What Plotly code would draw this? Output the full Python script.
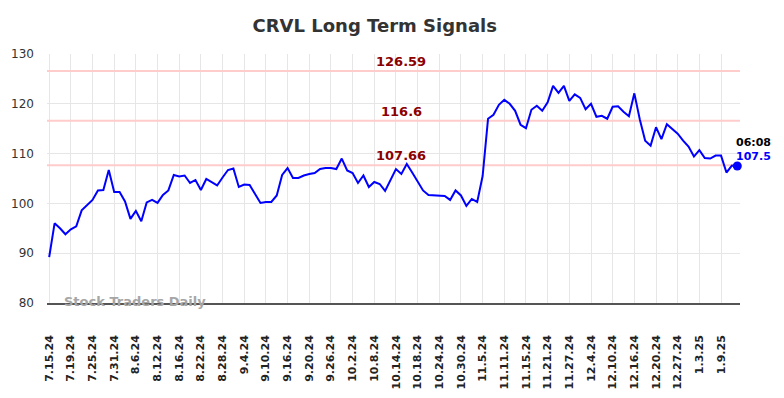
import plotly.graph_objects as go

title_text = "CRVL Long Term Signals"

prices = [
    89.2, 96.0, 95.0, 93.8, 94.8, 95.4, 98.6, 99.7, 100.7, 102.6,
    102.7, 106.7, 102.3, 102.3, 100.4, 96.9, 98.5, 96.4, 100.2, 100.7,
    100.1, 101.7, 102.6, 105.7, 105.4, 105.6, 104.1, 104.7, 102.7, 104.9,
    104.3, 103.6, 105.2, 106.7, 107.0, 103.3, 103.8, 103.7, 101.9, 100.1,
    100.3, 100.3, 101.6, 105.7, 107.1, 105.1, 105.1, 105.6, 105.9, 106.1,
    106.9, 107.1, 107.1, 106.9, 109.0, 106.6, 106.1, 104.1, 105.6, 103.3,
    104.3, 103.9, 102.5, 104.7, 106.9, 105.9, 107.9, 106.2, 104.4, 102.6,
    101.7, 101.6, 101.6, 101.5, 100.7, 102.6, 101.6, 99.5, 100.9, 100.3,
    105.5, 117.0, 117.8, 119.8, 120.8, 120.0, 118.6, 115.8, 115.1, 118.8,
    119.6, 118.6, 120.3, 123.6, 122.2, 123.6, 120.6, 121.9, 121.2, 118.9,
    120.0, 117.4, 117.6, 117.0, 119.4, 119.5, 118.4, 117.5, 122.1, 116.9,
    112.6, 111.6, 115.3, 112.9, 115.9, 115.0, 114.0, 112.6, 111.4, 109.4,
    110.7, 109.1, 109.0, 109.6, 109.6, 106.2, 107.6, 107.5,
]

tick_labels = [
    "7.15.24", "7.19.24", "7.25.24", "7.31.24", "8.6.24", "8.12.24", "8.16.24",
    "8.22.24", "8.28.24", "9.4.24", "9.10.24", "9.16.24", "9.20.24", "9.26.24",
    "10.2.24", "10.8.24", "10.14.24", "10.18.24", "10.24.24", "10.30.24",
    "11.5.24", "11.11.24", "11.15.24", "11.21.24", "11.27.24", "12.4.24",
    "12.10.24", "12.16.24", "12.20.24", "12.27.24", "1.3.25", "1.9.25",
]
tick_step = 4

signal_levels = [126.59, 116.6, 107.66]
last_time = "06:08"
last_price = 107.5
watermark = "Stock Traders Daily"

x_idx = list(range(len(prices)))
tick_vals = [i * tick_step for i in range(len(tick_labels))]
x_range = [-0.4, len(prices) - 0.5]

fig = go.Figure()

for lvl in signal_levels:
    fig.add_trace(go.Scatter(
        x=x_range, y=[lvl, lvl], mode="lines",
        line=dict(color="#ffcccc", width=2), hoverinfo="skip", showlegend=False,
    ))

fig.add_trace(go.Scatter(
    x=x_idx, y=prices, mode="lines",
    line=dict(color="#0000ff", width=2), showlegend=False,
))
fig.add_trace(go.Scatter(
    x=[x_idx[-1]], y=[last_price], mode="markers",
    marker=dict(color="#0000ff", size=9), showlegend=False, cliponaxis=False,
))

label_x = 65
for lvl in signal_levels:
    fig.add_annotation(
        x=label_x, y=lvl, text=f"<b>{lvl:g}</b>", showarrow=False,
        font=dict(family="DejaVu Sans", size=13, color="#8b0000"),
        yanchor="bottom", yshift=0,
    )

fig.add_annotation(
    x=x_idx[-1], y=last_price, text=f"<b>{last_time}</b>", showarrow=False,
    font=dict(family="DejaVu Sans", size=11, color="#000000"),
    xanchor="center", yanchor="middle", xshift=16, yshift=24,
)
fig.add_annotation(
    x=x_idx[-1], y=last_price, text=f"<b>{last_price:g}</b>", showarrow=False,
    font=dict(family="DejaVu Sans", size=11, color="#0000ff"),
    xanchor="center", yanchor="middle", xshift=16, yshift=10,
)

fig.add_annotation(
    x=0.022, y=80, xref="paper", text=f"<b>{watermark}</b>", showarrow=False,
    font=dict(family="DejaVu Sans", size=13, color="#a6a6a6"),
    xanchor="left", yanchor="middle", yshift=2,
)

fig.update_layout(
    width=784, height=398,
    margin=dict(l=47, r=44, t=54, b=95),
    paper_bgcolor="white", plot_bgcolor="white",
    title=dict(
        text=f"<b>{title_text}</b>", x=0.478, xanchor="center", y=0.935, yanchor="middle",
        font=dict(family="DejaVu Sans", size=18, color="#333333"),
    ),
    xaxis=dict(
        range=x_range, automargin=False,
        tickmode="array", tickvals=tick_vals, ticktext=tick_labels,
        tickangle=-90, ticklabelstandoff=26,
        tickfont=dict(family="DejaVu Sans", size=11, color="#222222", weight="bold"),
        showgrid=True, gridcolor="#e6e6e6", gridwidth=1,
        zeroline=False, showline=True, linecolor="#555555", linewidth=1.5,
        ticks="",
    ),
    yaxis=dict(
        range=[80, 130], tickvals=[80, 90, 100, 110, 120, 130], automargin=False,
        tickfont=dict(family="DejaVu Sans", size=12, color="#333333"),
        ticklabelstandoff=12,
        showgrid=True, gridcolor="#e6e6e6", gridwidth=1,
        zeroline=False, showline=False, ticks="",
    ),
)

fig.write_html(
    "out.html",
    config={"displayModeBar": False},
    post_script="document.body.style.margin='0';",
)
